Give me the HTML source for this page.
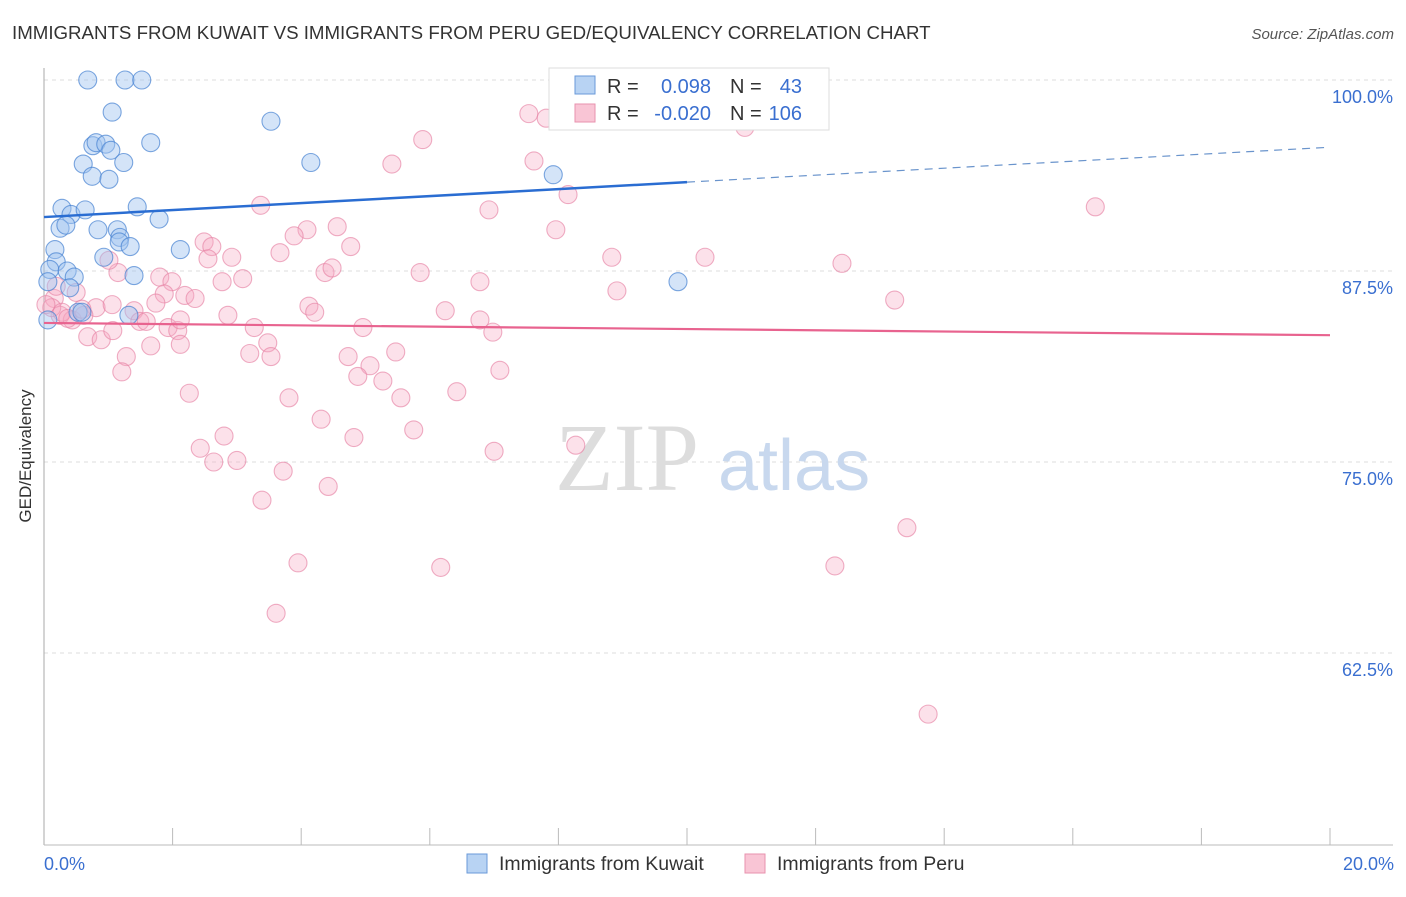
<!DOCTYPE html>
<html><head><meta charset="utf-8"><style>
body{margin:0;background:#fff;font-family:"Liberation Sans",sans-serif;}
</style></head><body>
<svg width="1406" height="892" xmlns="http://www.w3.org/2000/svg" font-family="Liberation Sans, sans-serif">
<text x="12" y="39" font-size="18.7" fill="#333">IMMIGRANTS FROM KUWAIT VS IMMIGRANTS FROM PERU GED/EQUIVALENCY CORRELATION CHART</text>
<text x="1394" y="39" font-size="15" fill="#555" text-anchor="end" font-style="italic">Source: ZipAtlas.com</text>
<g id="grid"></g>
<g id="xticks"></g>
<line x1="44" y1="68" x2="44" y2="845" stroke="#aaa"/>
<line x1="44" y1="845" x2="1393" y2="845" stroke="#bbb"/>
<text x="31" y="456" font-size="17" fill="#333" text-anchor="middle" transform="rotate(-90 31 456)">GED/Equivalency</text>
<text x="555" y="490" font-size="96" fill="#ddd" font-family="Liberation Serif, serif">ZIP</text>
<text x="718" y="490" font-size="72" fill="#c8d8ee">atlas</text>
<g id="pts"></g>
<g id="trend"></g>
<g>
<rect x="549" y="68" width="280" height="62" fill="#fff" stroke="#ddd"/>
<rect x="575" y="76" width="20" height="18" fill="#b8d3f3" stroke="#6a9ad8"/>
<rect x="575" y="104" width="20" height="18" fill="#f9c5d5" stroke="#e892ae"/>
<text x="607" y="93" font-size="20" fill="#333">R =</text>
<text x="711" y="93" font-size="20" fill="#3a6fd0" text-anchor="end">0.098</text>
<text x="730" y="93" font-size="20" fill="#333">N =</text>
<text x="802" y="93" font-size="20" fill="#3a6fd0" text-anchor="end">43</text>
<text x="607" y="120" font-size="20" fill="#333">R =</text>
<text x="711" y="120" font-size="20" fill="#3a6fd0" text-anchor="end">-0.020</text>
<text x="730" y="120" font-size="20" fill="#333">N =</text>
<text x="802" y="120" font-size="20" fill="#3a6fd0" text-anchor="end">106</text>
</g>
<g>
<rect x="467" y="854" width="20" height="19" fill="#b8d3f3" stroke="#6a9ad8"/>
<text x="499" y="870" font-size="19.5" fill="#333">Immigrants from Kuwait</text>
<rect x="745" y="854" width="20" height="19" fill="#f9c5d5" stroke="#e892ae"/>
<text x="777" y="870" font-size="19.5" fill="#333">Immigrants from Peru</text>
</g>
</svg>
<script>
const yTicks=[100,87.5,75,62.5];
const yTickLabels=["100.0%","87.5%","75.0%","62.5%"];
const xTickLabels=["0.0%","20.0%"];
const kuwaitX=[0.68,1.26,1.52,1.06,3.53,0.76,0.81,0.96,1.04,1.66,0.61,1.24,0.75,1.01,4.15,7.92,0.28,0.42,0.64,1.45,1.79,0.25,0.34,0.84,1.14,1.18,1.17,1.34,2.12,0.17,0.19,0.09,0.36,0.47,1.40,0.93,0.40,0.06,0.53,0.59,1.32,9.86,0.06];
const kuwaitY=[100,100,100,97.9,97.3,95.7,95.9,95.8,95.4,95.9,94.5,94.6,93.7,93.5,94.6,93.8,91.6,91.2,91.5,91.7,90.9,90.3,90.5,90.2,90.2,89.7,89.4,89.1,88.9,88.9,88.1,87.6,87.5,87.1,87.2,88.4,86.4,86.8,84.8,84.8,84.6,86.8,84.3];
const peruX=[7.54,7.81,10.90,5.89,5.41,7.62,3.37,6.92,8.15,16.35,4.56,4.09,3.89,7.96,4.77,2.49,2.61,3.67,2.55,2.92,8.83,10.28,12.41,5.85,4.37,4.48,1.15,1.01,1.80,1.99,2.77,3.09,6.78,2.19,2.35,1.87,0.16,0.50,8.91,13.23,1.74,0.81,1.40,4.12,4.21,6.24,2.86,6.78,6.98,3.27,4.96,1.93,2.08,0.68,0.89,1.07,1.49,1.59,0.25,0.12,0.44,3.48,1.66,2.12,1.28,3.20,3.53,4.73,5.47,5.07,4.88,5.27,7.09,1.21,2.26,3.81,5.55,6.42,4.31,5.75,4.82,2.80,2.43,7.00,8.27,2.64,3.00,3.72,4.42,3.39,13.42,3.95,6.17,12.30,3.61,13.75,0.28,0.37,0.62,0.03,0.19,2.12,1.06,0.59];
const peruY=[97.8,97.5,96.9,96.1,94.5,94.7,91.8,91.5,92.5,91.7,90.4,90.2,89.8,90.2,89.1,89.4,89.1,88.7,88.3,88.4,88.4,88.4,88.0,87.4,87.4,87.7,87.4,88.2,87.1,86.8,86.8,87.0,86.8,85.9,85.7,86.0,85.7,86.1,86.2,85.6,85.4,85.1,84.9,85.2,84.8,84.9,84.6,84.3,83.5,83.8,83.8,83.8,83.6,83.2,83.0,83.6,84.2,84.2,84.6,85.1,84.3,82.8,82.6,82.7,81.9,82.1,81.9,81.9,82.2,81.3,80.6,80.3,81.0,80.9,79.5,79.2,79.2,79.6,77.8,77.1,76.6,76.7,75.9,75.7,76.1,75.0,75.1,74.4,73.4,72.5,70.7,68.4,68.1,68.2,65.1,58.5,84.8,84.4,84.6,85.3,86.5,84.3,85.3,85.0];
const kuwaitTrend=[91.03,95.6];
const peruTrend=[84.1,83.3];
const NS="http://www.w3.org/2000/svg";
const sx=v=>44+v*64.3, sy=v=>80+(100-v)*15.28;
function mk(t,a,p){const e=document.createElementNS(NS,t);for(const k in a)e.setAttribute(k,a[k]);p.appendChild(e);return e;}
const grid=document.getElementById('grid');
yTicks.forEach((t,i)=>{
 const l=mk('line',{x1:44,x2:1393,y1:sy(t),y2:sy(t),stroke:'#ddd','stroke-dasharray':'4 4'},grid);
 
 
 const tx=mk('text',{x:1393,y:sy(t)+23,'font-size':18,fill:'#3a6fd0','text-anchor':'end'},grid);
 tx.textContent=yTickLabels[i];
 
 
});
const xt=document.getElementById('xticks');
for(let i=0;i<=10;i++){const v=i*2;const l=mk('line',{x1:sx(v),x2:sx(v),y1:828,y2:845,stroke:'#bbb'},xt);
 
 }
[[0,'start',44],[20,'end',1394]].forEach((d,i)=>{const t=mk('text',{x:d[2],y:870,'font-size':18,fill:'#3a6fd0','text-anchor':d[1]},xt);t.textContent=xTickLabels[i];
 
 });
const pts=document.getElementById('pts');
peruX.forEach((x,i)=>{const c=mk('circle',{cx:sx(x),cy:sy(peruY[i]),r:9,fill:'rgba(246,170,195,0.35)',stroke:'rgba(230,130,165,0.65)','stroke-width':1.1},pts);
 
 });
kuwaitX.forEach((x,i)=>{const c=mk('circle',{cx:sx(x),cy:sy(kuwaitY[i]),r:9,fill:'rgba(160,195,240,0.45)',stroke:'rgba(70,130,210,0.7)','stroke-width':1.1},pts);
 
 });
const tr=document.getElementById('trend');
const kb=v=>kuwaitTrend[0]+(kuwaitTrend[1]-kuwaitTrend[0])*v/20;
let l1=mk('line',{x1:sx(0),y1:sy(kb(0)),x2:sx(10),y2:sy(kb(10)),stroke:'#2a6dd2','stroke-width':2.5},tr);


let l2=mk('line',{x1:sx(10),y1:sy(kb(10)),x2:sx(20),y2:sy(kb(20)),stroke:'#6a94cc','stroke-width':1.2,'stroke-dasharray':'8 6'},tr);


let l3=mk('line',{x1:sx(0),y1:sy(peruTrend[0]),x2:sx(20),y2:sy(peruTrend[1]),stroke:'#e8638f','stroke-width':2.2},tr);


</script>
</body></html>
